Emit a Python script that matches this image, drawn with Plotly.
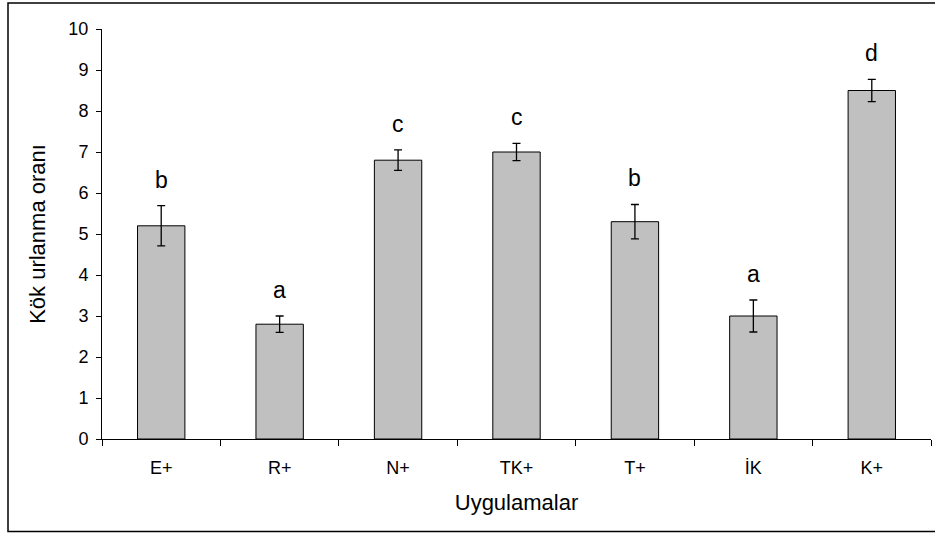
import plotly.graph_objects as go

categories = ["E+", "R+", "N+", "TK+", "T+", "İK", "K+"]
values = [5.2, 2.8, 6.8, 7.0, 5.3, 3.0, 8.5]
errors = [0.49, 0.2, 0.25, 0.21, 0.42, 0.39, 0.27]
letters = ["b", "a", "c", "c", "b", "a", "d"]
yticks = list(range(0, 11))

FONT = "Liberation Sans, Arial, sans-serif"

fig = go.Figure()
fig.add_trace(go.Bar(
    x=categories, y=values,
    marker=dict(color="#C0C0C0", line=dict(color="#000000", width=1)),
    error_y=dict(type="data", array=errors, visible=True, color="#000000",
                 thickness=1.3, width=4),
    showlegend=False,
))

for c, v, e, l in zip(categories, values, errors, letters):
    fig.add_annotation(x=c, y=v + e, text=l, showarrow=False,
                       yanchor="bottom", yshift=11,
                       font=dict(family=FONT, size=23, color="#000000"))

# outer chart border
L, R, T, B = 102, 4, 29, 94
W, H = 935, 533
pw, ph = W - L - R, H - T - B
fig.add_shape(type="rect", xref="paper", yref="paper",
              x0=(8 - L) / pw, x1=(940 - L) / pw,
              y0=-(531.5 - (H - B)) / ph, y1=1 + (T - 3) / ph,
              line=dict(color="#000000", width=1.5), fillcolor="rgba(0,0,0,0)")

fig.update_layout(
    width=W, height=H,
    margin=dict(l=L, r=R, t=T, b=B, pad=0),
    paper_bgcolor="white", plot_bgcolor="white",
    bargap=0.6,
    font=dict(family=FONT, color="#000000"),
    xaxis=dict(
        type="category", range=[-0.5, 6.5],
        showline=True, linecolor="#000000", linewidth=1,
        ticks="outside", tickson="boundaries", ticklen=6, tickcolor="#000000",
        tickfont=dict(size=18, family=FONT), showgrid=False, zeroline=False,
        ticklabelstandoff=12,
        title=dict(text="Uygulamalar", font=dict(size=22, family=FONT), standoff=18),
    ),
    yaxis=dict(
        range=[0, 10], tickvals=yticks,
        showline=True, linecolor="#000000", linewidth=1,
        ticks="outside", ticklen=5, tickcolor="#000000",
        tickfont=dict(size=18, family=FONT), showgrid=False, zeroline=False,
        ticklabelstandoff=4,
        title=dict(text="Kök urlanma oranı", font=dict(size=22, family=FONT), standoff=16),
    ),
)

fig.write_html("out.html", config={"displayModeBar": False},
               post_script="document.body.style.margin='0';")
